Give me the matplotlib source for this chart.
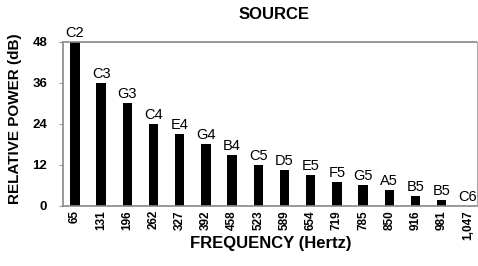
import matplotlib.pyplot as plt

plt.rcParams['font.family'] = ['Liberation Sans', 'DejaVu Sans']

# dados do grafico
frequencias = ["65", "131", "196", "262", "327", "392", "458", "523",
               "589", "654", "719", "785", "850", "916", "981", "1,047"]
notas = ["C2", "C3", "G3", "C4", "E4", "G4", "B4", "C5",
         "D5", "E5", "F5", "G5", "A5", "B5", "B5", "C6"]
potencia = [48, 36, 30, 24, 21, 18, 15, 12, 10.5, 9, 7, 6, 4.5, 3, 1.7, 0]
yticks = [0, 12, 24, 36, 48]

fig = plt.figure(figsize=(4.78, 2.66), dpi=100)
ax = fig.add_axes([0.131, 0.226, 0.867, 0.617])

x = list(range(len(frequencias)))
ax.bar(x, potencia, width=0.36, color="black")

for i, (nota, p) in enumerate(zip(notas, potencia)):
    ax.text(i, p + 0.6, nota, ha="center", va="bottom", fontsize=10.5)

ax.set_xlim(-0.47, 15.35)
ax.set_ylim(0, 48)
ax.set_xticks(x)
ax.set_xticklabels(frequencias, rotation=90, fontsize=8.5, fontweight="bold")
ax.set_yticks(yticks)
ax.set_yticklabels([str(t) for t in yticks], fontsize=9.5, fontweight="bold")
ax.tick_params(axis="x", length=0, pad=3)
ax.tick_params(axis="y", length=3, color="#999999", pad=8)

for lado in ["top", "bottom", "left"]:
    ax.spines[lado].set_linestyle((0, (2, 1)))
    ax.spines[lado].set_color("#888888")
    ax.spines[lado].set_linewidth(1.2)
ax.spines["right"].set_color("#aaaaaa")
ax.spines["right"].set_linewidth(0.8)

fig.text(0.573, 0.944, "SOURCE", ha="center", va="center",
         fontsize=12, fontweight="bold")
fig.text(0.567, 0.086, "FREQUENCY (Hertz)", ha="center", va="center",
         fontsize=12, fontweight="bold")
fig.text(0.032, 0.553, "RELATIVE POWER (dB)", ha="center", va="center",
         rotation=90, fontsize=11, fontweight="bold")

fig.savefig("out.png", dpi=100)
